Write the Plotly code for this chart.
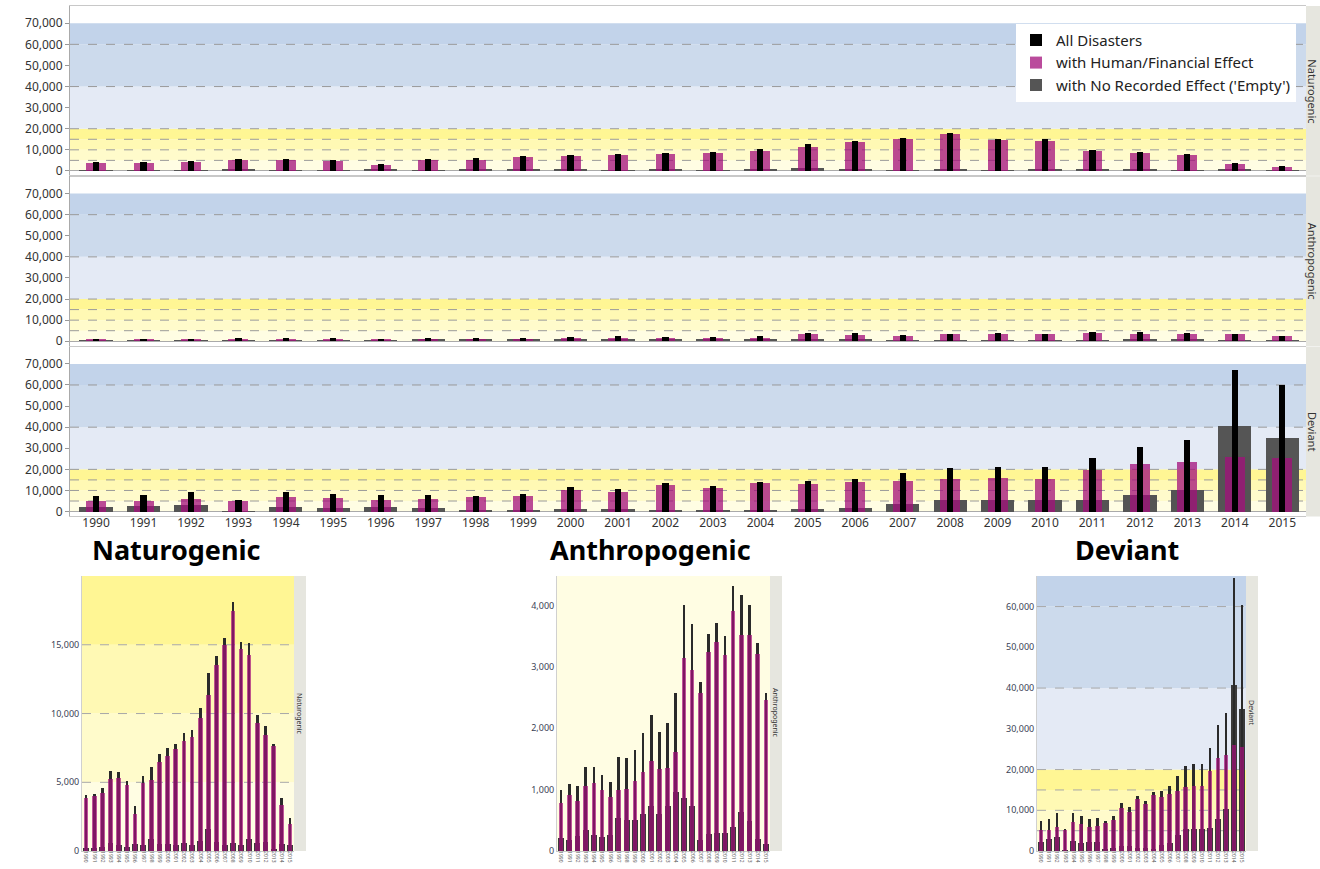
import plotly.graph_objects as go

W, H = 1320, 869

years = [str(y) for y in range(1990, 2016)]

nat_all = [4100, 4130, 4570, 5820, 5720, 5100, 3250, 5480, 6080, 7070, 7500, 7810, 8580,
           8770, 10410, 12980, 14180, 15500, 18080, 15190, 15100, 9900, 9110, 7810, 3850, 2400]
nat_human = [3850, 3970, 4250, 5220, 5290, 4810, 2690, 4980, 5170, 6490, 6920, 7400, 8000,
             8290, 9660, 11350, 13510, 14980, 17480, 14660, 14230, 9330, 8410, 7640, 3320, 1970]
nat_empty = [240, 200, 290, 600, 430, 290, 530, 430, 910, 530, 550, 410, 600,
             460, 770, 1630, 650, 460, 580, 430, 890, 580, 650, 170, 550, 410]

ant_all = [1000, 1095, 1052, 1376, 1376, 1241, 1133, 1538, 1511, 1646, 1916, 2213, 1943,
           2094, 2574, 4010, 3697, 2752, 3535, 3713, 3497, 4317, 4166, 4004, 3394, 2574]
ant_human = [780, 917, 810, 1052, 1106, 988, 874, 993, 1009, 1144, 1284, 1468, 1338,
             1360, 1608, 3146, 2957, 2569, 3249, 3411, 3195, 3913, 3524, 3519, 3211, 2455]
ant_empty = [215, 173, 243, 351, 270, 232, 259, 540, 502, 513, 610, 734, 610,
             740, 960, 863, 740, 173, 281, 297, 297, 400, 637, 486, 190, 108]

dev_all = [7480, 7970, 9430, 5450, 9350, 8700, 7970, 8210, 7480, 8540, 11710, 10890, 13580,
           12360, 14390, 14800, 15850, 18540, 20890, 21380, 21300, 25370, 30900, 33900, 67070, 60400]
dev_human = [5120, 5120, 5930, 5280, 7070, 6750, 5850, 6260, 6990, 7560, 10490, 9670, 12850,
             11540, 13820, 13330, 13980, 14800, 15610, 16020, 15850, 19760, 22760, 23660, 26020, 25610]
dev_empty = [2280, 2930, 3500, 100, 2440, 2030, 2200, 2110, 570, 810, 1220, 1220, 730,
             730, 570, 1380, 1870, 3900, 5450, 5450, 5450, 5690, 7970, 10330, 40810, 34960]

groups = ["Naturogenic", "Anthropogenic", "Deviant"]
series = {
    "Naturogenic": (nat_all, nat_human, nat_empty),
    "Anthropogenic": (ant_all, ant_human, ant_empty),
    "Deviant": (dev_all, dev_human, dev_empty),
}
legend_names = ["All Disasters", "with Human/Financial Effect", "with No Recorded Effect ('Empty')"]

band_edges = [0, 5000, 10000, 15000, 20000, 40000, 60000, 70000]
band_colors = ["#FFFDE3", "#FFFBCB", "#FFF9B4", "#FFF694", "#E4EAF5", "#CCDAEC", "#C2D3EA"]
grid_levels = [5000, 10000, 15000, 20000, 40000, 60000]

C_ALL = "#000000"
C_HUM = "#A30F7B"
C_EMP = "#555555"
FONT = "Noto Sans"


def px_x(p):
    return p / W


def px_y(p):
    return 1 - p / H


fig = go.Figure()
shapes = []
annotations = []
layout_axes = {}

# ---------- top stacked panels ----------
top_x = [px_x(70), px_x(1306)]
top_y_px = [(6, 177), (177.5, 348.5), (349, 520)]
top_range = [-2300, 78200]

for i, g in enumerate(groups):
    n = i + 1
    xa = f"x{n}" if n > 1 else "x"
    ya = f"y{n}" if n > 1 else "y"
    a_all, a_hum, a_emp = series[g]
    show = (i == 0)
    fig.add_trace(go.Bar(x=years, y=a_emp, width=0.7, marker=dict(color=C_EMP, line=dict(width=0)),
                         name=legend_names[2], legendrank=3, showlegend=show, xaxis=xa, yaxis=ya))
    fig.add_trace(go.Bar(x=years, y=a_hum, width=0.42, opacity=0.75,
                         marker=dict(color=C_HUM, line=dict(width=0)),
                         name=legend_names[1], legendrank=2, showlegend=show, xaxis=xa, yaxis=ya))
    fig.add_trace(go.Bar(x=years, y=a_all, width=0.13, marker=dict(color=C_ALL, line=dict(width=0)),
                         name=legend_names[0], legendrank=1, showlegend=show, xaxis=xa, yaxis=ya))
    y0p, y1p = top_y_px[i]
    layout_axes["xaxis" + (str(n) if n > 1 else "")] = dict(
        domain=top_x, anchor=ya, range=[-0.55, 25.5], type="category",
        showticklabels=(i == 2), ticks="", showgrid=False, zeroline=False,
        showline=True, linecolor="#C8C8C8", mirror=True, ticklabelstandoff=-5,
        tickfont=dict(family=FONT, size=12, color="#333"), fixedrange=True)
    layout_axes["yaxis" + (str(n) if n > 1 else "")] = dict(
        domain=[px_y(y1p), px_y(y0p)], anchor=xa, range=top_range,
        tickvals=list(range(0, 70001, 10000)), tickformat=",d",
        ticks="outside", ticklen=4, tickcolor="#999", showgrid=False, zeroline=True,
        zerolinecolor="#AAAAAA", zerolinewidth=1,
        showline=True, linecolor="#AAAAAA",
        tickfont=dict(family=FONT, size=12, color="#333"), fixedrange=True)
    for k in range(len(band_colors)):
        shapes.append(dict(type="rect", xref=xa + " domain", yref=ya, x0=0, x1=1,
                           y0=band_edges[k], y1=band_edges[k + 1], fillcolor=band_colors[k],
                           line=dict(width=0), layer="below"))
    for lv in grid_levels:
        shapes.append(dict(type="line", xref=xa + " domain", yref=ya, x0=0, x1=1, y0=lv, y1=lv,
                           line=dict(color="#9A9A9A", width=1, dash="dash"), layer="below"))
    # strip
    shapes.append(dict(type="rect", xref="paper", yref="paper", x0=px_x(1306), x1=1,
                       y0=px_y(y1p), y1=px_y(y0p), fillcolor="#E6E6DF", line=dict(width=0)))
    annotations.append(dict(text=g, xref="paper", yref="paper", x=px_x(1312.5), y=px_y((y0p + y1p) / 2),
                            textangle=90, showarrow=False, xanchor="center", yanchor="middle",
                            borderpad=0,
                            font=dict(family=FONT, size=11, color="#333")))

# ---------- bottom small charts ----------
bot_y = [px_y(857), px_y(580)]
bot_x_px = [(82, 294), (557, 770), (1037, 1246)]
bot_ranges = [[0, 20000], [0, 4480], [0, 67500]]
bot_ticks = [[0, 5000, 10000, 15000], [0, 1000, 2000, 3000, 4000],
             [0, 10000, 20000, 30000, 40000, 50000, 60000]]
title_x = [176, 650, 1127]

for i, g in enumerate(groups):
    n = i + 4
    xa, ya = f"x{n}", f"y{n}"
    a_all, a_hum, a_emp = series[g]
    fig.add_trace(go.Bar(x=years, y=a_emp, width=0.72, marker=dict(color="#3A3A3A", line=dict(width=0)),
                         showlegend=False, xaxis=xa, yaxis=ya, name=legend_names[2]))
    fig.add_trace(go.Bar(x=years, y=a_all, width=0.32, marker=dict(color="#2A2A2A", line=dict(width=0)),
                         showlegend=False, xaxis=xa, yaxis=ya, name=legend_names[0]))
    fig.add_trace(go.Bar(x=years, y=a_hum, width=0.56, opacity=0.7,
                         marker=dict(color=C_HUM, line=dict(width=0)),
                         showlegend=False, xaxis=xa, yaxis=ya, name=legend_names[1]))
    x0p, x1p = bot_x_px[i]
    layout_axes[f"xaxis{n}"] = dict(
        domain=[px_x(x0p), px_x(x1p)], anchor=ya, range=[-0.5, 25.5], type="category",
        tickangle=90, tickfont=dict(family=FONT, size=5, color="#555"), ticks="",
        ticklabelstandoff=-2,
        showgrid=False, zeroline=False, showline=True, linecolor="#C8C8C8", fixedrange=True)
    layout_axes[f"yaxis{n}"] = dict(
        domain=bot_y, anchor=xa, range=bot_ranges[i], tickvals=bot_ticks[i], tickformat=",d",
        ticks="", showgrid=False, zeroline=False, showline=True, linecolor="#D0D0D0",
        tickfont=dict(family=FONT, size=9, color="#3A3F55"), fixedrange=True)
    for k in range(len(band_colors)):
        shapes.append(dict(type="rect", xref=xa + " domain", yref=ya, x0=0, x1=1,
                           y0=band_edges[k], y1=band_edges[k + 1], fillcolor=band_colors[k],
                           line=dict(width=0), layer="below"))
    for lv in grid_levels:
        if lv < bot_ranges[i][1]:
            shapes.append(dict(type="line", xref=xa + " domain", yref=ya, x0=0, x1=1, y0=lv, y1=lv,
                               line=dict(color="#A8A8A8", width=1, dash="dash"), layer="below"))
    shapes.append(dict(type="rect", xref="paper", yref="paper", x0=px_x(x1p), x1=px_x(x1p + 12),
                       y0=bot_y[0], y1=bot_y[1], fillcolor="#E6E6DF", line=dict(width=0)))
    annotations.append(dict(text=g, xref="paper", yref="paper", x=px_x(x1p + 6), y=px_y(718),
                            textangle=90, showarrow=False, xanchor="center", yanchor="middle",
                            font=dict(family=FONT, size=7, color="#333")))
    annotations.append(dict(text="<b>" + g + "</b>", xref="paper", yref="paper",
                            x=px_x(title_x[i]), y=px_y(553), showarrow=False,
                            xanchor="center", yanchor="middle", borderpad=0,
                            font=dict(family=FONT, size=27, color="#000")))

fig.update_layout(
    width=W, height=H, autosize=False,
    margin=dict(l=0, r=0, t=0, b=0),
    paper_bgcolor="white", plot_bgcolor="white",
    barmode="overlay", bargap=0,
    shapes=shapes, annotations=annotations,
    legend=dict(x=px_x(1016), y=px_y(24), xanchor="left", yanchor="top",
                bgcolor="white", borderwidth=0, tracegroupgap=0, itemwidth=30,
                font=dict(family=FONT, size=15, color="#222")),
    **layout_axes,
)

fig.write_html("out.html", config={"displayModeBar": False},
               post_script="document.body.style.margin='0px';document.body.style.overflow='hidden';")
